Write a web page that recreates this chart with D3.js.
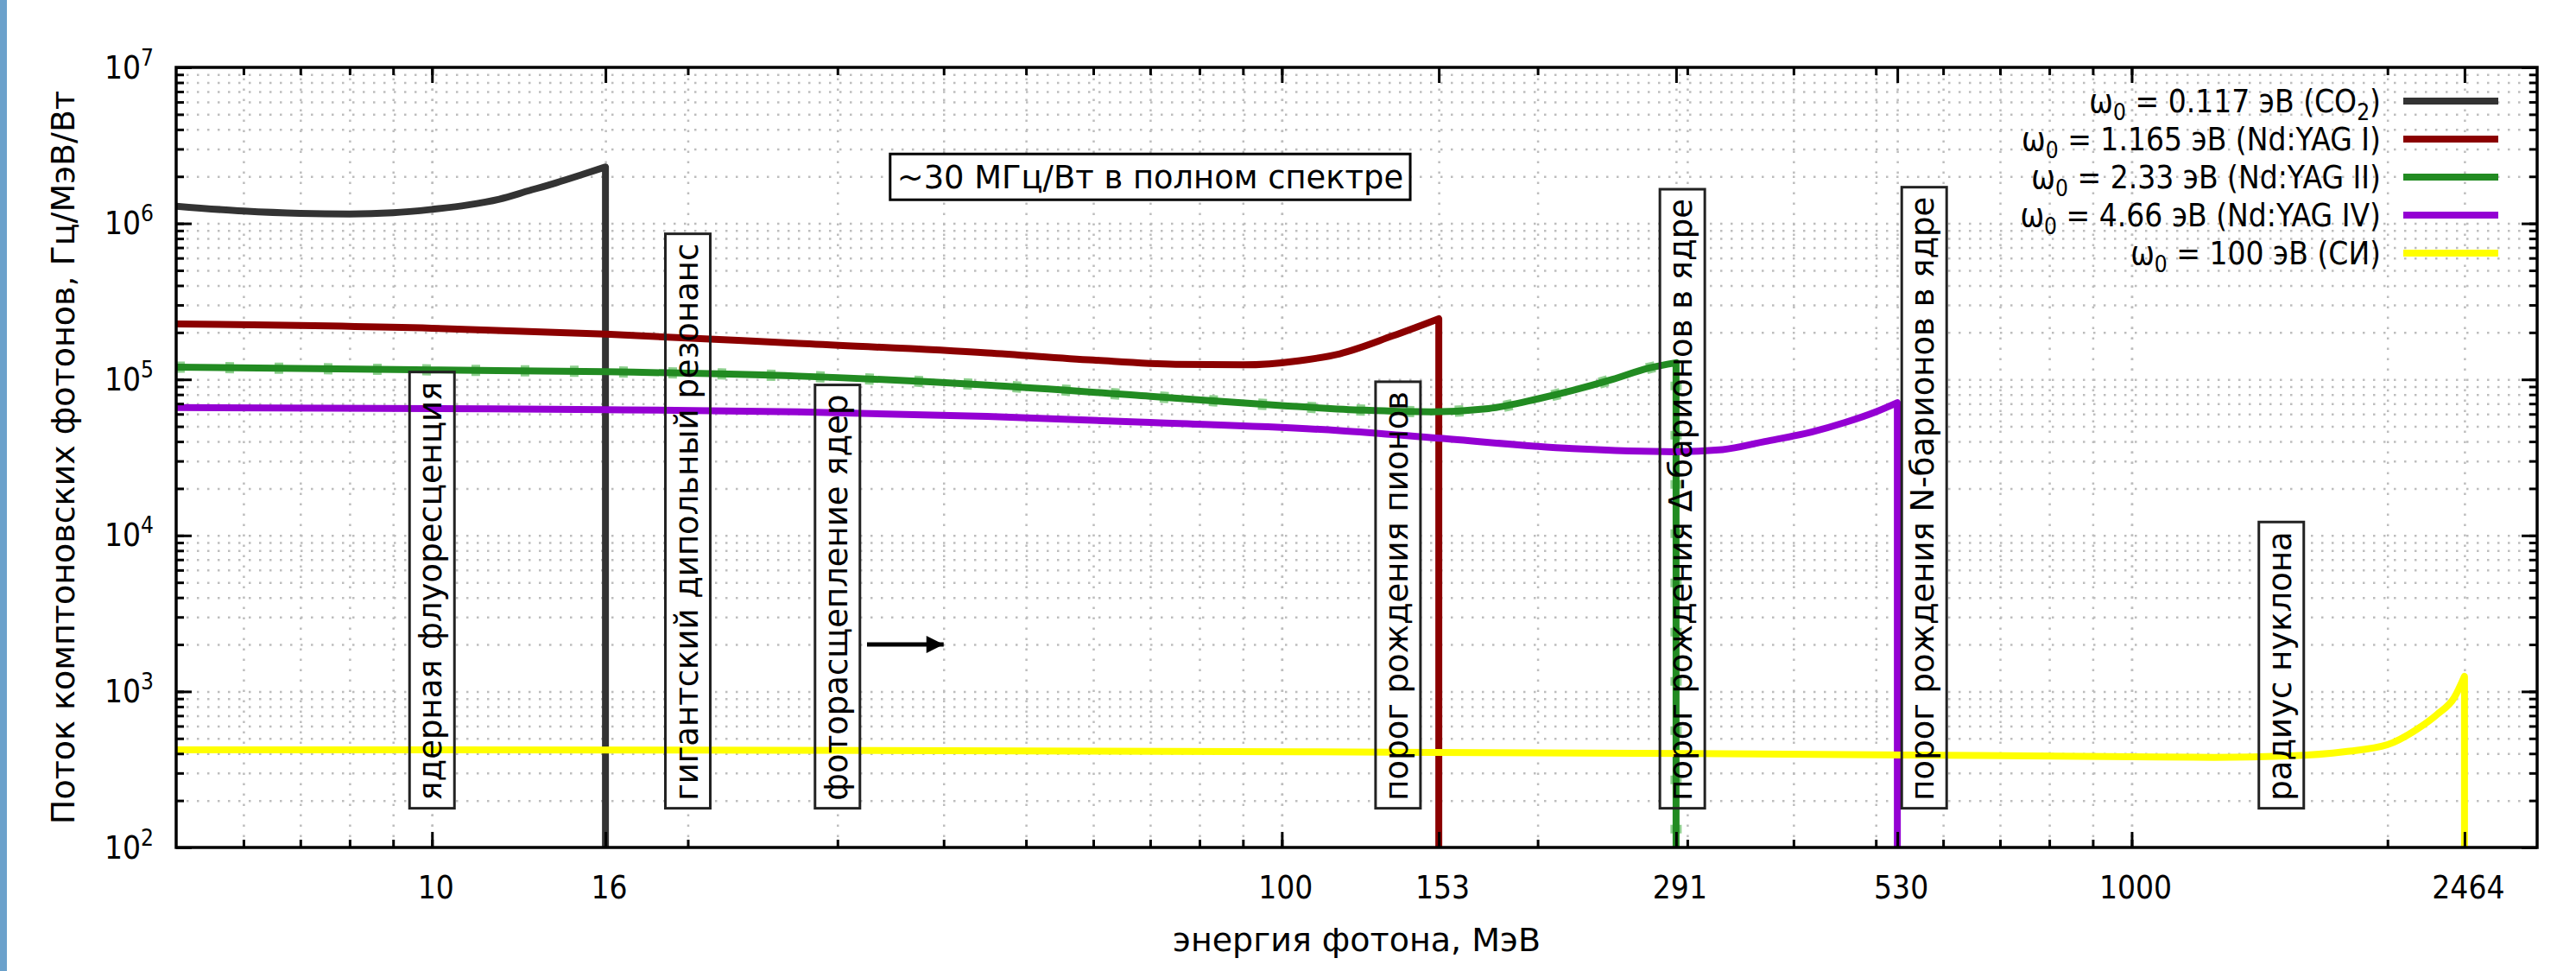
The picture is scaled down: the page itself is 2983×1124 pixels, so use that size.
<!DOCTYPE html>
<html>
<head>
<meta charset="utf-8">
<script src="https://cdn.jsdelivr.net/npm/d3@7"></script>
<style>
  body { margin: 0; background: #fff; }
  svg text { font-family: "DejaVu Sans", sans-serif; fill: #000; white-space: pre; }
</style>
</head>
<body>
<script>
// values: photon energy (MeV) and flux (Hz/MeV/W)
var energyCO2 = [5, 6, 7, 8, 9, 10, 11, 12, 13, 14, 15, 16];
var fluxCO2   = [1.29e6, 1.2e6, 1.16e6, 1.15e6, 1.17e6, 1.23e6, 1.31e6, 1.43e6, 1.62e6, 1.82e6, 2.05e6, 2.3e6];

var energyYag1 = [5, 10, 16, 27, 45, 60, 75, 90, 105, 117, 135, 153];
var fluxYag1   = [2.27e5, 2.13e5, 1.95e5, 1.7e5, 1.48e5, 1.33e5, 1.25e5, 1.24e5, 1.32e5, 1.46e5, 1.9e5, 2.45e5];

var energyYag2 = [5, 10, 16, 27, 45, 70, 100, 125, 150, 175, 200, 220, 245, 270, 291];
var fluxYag2   = [1.2e5, 1.15e5, 1.12e5, 1.05e5, 9.2e4, 7.8e4, 6.8e4, 6.35e4, 6.2e4, 6.5e4, 7.5e4, 8.5e4, 1.0e5, 1.18e5, 1.28e5];

var energyYag4 = [5, 10, 16, 27, 45, 70, 117, 153, 220, 290, 330, 370, 420, 460, 500, 530];
var fluxYag4   = [6.6e4, 6.5e4, 6.4e4, 6.2e4, 5.8e4, 5.3e4, 4.7e4, 4.2e4, 3.6e4, 3.44e4, 3.55e4, 4.0e4, 4.6e4, 5.3e4, 6.2e4, 7.1e4];

var energySR = [5, 20, 60, 150, 300, 600, 1000, 1250, 1530, 1786, 2000, 2174, 2288, 2398, 2464];
var fluxSR   = [423, 421, 415, 407, 400, 390, 381, 378, 386, 412, 456, 580, 713, 918, 1250];

var seriesNames = ["ω_0 = 0.117 эВ (CO_2)", "ω_0 = 1.165 эВ (Nd:YAG I)", "ω_0 = 2.33 эВ (Nd:YAG II)",
                   "ω_0 = 4.66 эВ (Nd:YAG IV)", "ω_0 = 100 эВ (СИ)"];
var seriesColors = ["#333333", "#8b0000", "#228b22", "#9400d3", "#ffff00"];

var xTickLabels = [10, 16, 100, 153, 291, 530, 1000, 2464];
var yTickValues = [1e2, 1e3, 1e4, 1e5, 1e6, 1e7];

var markerLabels = ["ядерная флуоресценция", "гигантский дипольный резонанс", "фоторасщепление ядер",
                    "порог рождения пионов", "порог рождения Δ-барионов в ядре",
                    "порог рождения N-барионов в ядре", "радиус нуклона"];
var markerEnergy = [10, 20, 30, 137, 296, 570, 1500];
var markerFlux = 200;

var noteText = "~30 МГц/Вт в полном спектре";
var noteEnergy = 70, noteFlux = 2e6;
var arrowEnergy = [32.5, 40], arrowFlux = 2000;

var xTitle = "энергия фотона, МэВ";
var yTitle = "Поток комптоновских фотонов, Гц/МэВ/Вт";

// layout
var W = 2983, H = 1124;
var plotL = 204, plotR = 2938, plotT = 78, plotB = 981;
var squeeze = "scale(0.87,1)";

var svg = d3.select("body").append("svg").attr("width", W).attr("height", H);
svg.append("rect").attr("width", W).attr("height", H).attr("fill", "#fff");
svg.append("rect").attr("x", 0).attr("y", 0).attr("width", 8).attr("height", H).attr("fill", "#6ba1cb");

var x = d3.scaleLog().domain([5, 3000]).range([plotL, plotR]);
var y = d3.scaleLog().domain([1e2, 1e7]).range([plotB, plotT]);

svg.append("clipPath").attr("id", "plotclip")
   .append("rect").attr("x", plotL).attr("y", plotT).attr("width", plotR - plotL).attr("height", plotB - plotT);

// grid
var xMinor = x.ticks().filter(function(v){ return v > 5 && v < 3000; });
var yMinor = y.ticks().filter(function(v){ return v > 100 && v < 1e7; });

var grid = svg.append("g");
grid.append("g").attr("transform", "translate(0," + plotB + ")")
    .call(d3.axisBottom(x).tickValues(xMinor.concat(xTickLabels)).tickSize(-(plotB - plotT)).tickFormat(""));
grid.append("g").attr("transform", "translate(" + plotL + ",0)")
    .call(d3.axisLeft(y).tickValues(yMinor).tickSize(-(plotR - plotL)).tickFormat(""));
grid.selectAll(".domain").remove();
grid.selectAll("line").attr("stroke", "#bdbdbd").attr("stroke-width", 2.5).attr("stroke-dasharray", "2.5 9.5");

var boxLayer = svg.append("g");
var curveLayer = svg.append("g").attr("clip-path", "url(#plotclip)");
var textLayer = svg.append("g");

// vertical labels in boxes
markerLabels.forEach(function(label, i) {
  var tr = "translate(" + x(markerEnergy[i]) + "," + y(markerFlux) + ") rotate(-90)";
  var t = textLayer.append("g").attr("transform", tr).append("text")
      .attr("font-size", 37).attr("dy", "0.3em").text(label);
  var len = t.node().getComputedTextLength();
  boxLayer.append("rect").attr("transform", tr)
      .attr("x", -9).attr("y", -26).attr("width", len + 20).attr("height", 52)
      .attr("fill", "#fff");
  textLayer.append("rect").attr("transform", tr)
      .attr("x", -9).attr("y", -26).attr("width", len + 20).attr("height", 52)
      .attr("fill", "none").attr("stroke", "#222").attr("stroke-width", 3);
});

// curves
var allSeries = [[energyCO2, fluxCO2], [energyYag1, fluxYag1], [energyYag2, fluxYag2],
                 [energyYag4, fluxYag4], [energySR, fluxSR]];
var line = d3.line().x(function(d){ return x(d[0]); }).y(function(d){ return y(d[1]); })
    .curve(d3.curveMonotoneX);

allSeries.forEach(function(s, i) {
  var pts = d3.zip(s[0], s[1]);
  var last = pts[pts.length - 1];
  var d = line(pts) + "L" + x(last[0]) + "," + (plotB + 5);
  if (i == 2) {
    curveLayer.append("path").attr("d", d).attr("fill", "none")
      .attr("stroke", "#8fd08f").attr("stroke-width", 13).attr("stroke-dasharray", "10 47");
  }
  curveLayer.append("path").attr("d", d).attr("fill", "none")
    .attr("stroke", seriesColors[i]).attr("stroke-width", 8)
    .attr("stroke-linejoin", "round");
});

// note box
var noteG = textLayer.append("g").attr("transform", "translate(" + x(noteEnergy) + "," + y(noteFlux) + ")");
var noteT = noteG.append("text").attr("transform", "scale(0.97,1)").attr("text-anchor", "middle")
    .attr("dy", "0.36em").attr("font-size", 38).text(noteText);
var noteW = noteT.node().getComputedTextLength() * 0.97;
noteG.insert("rect", "text").attr("x", -noteW / 2 - 8).attr("y", -26).attr("width", noteW + 16).attr("height", 53)
    .attr("fill", "#fff").attr("stroke", "#000").attr("stroke-width", 3);

// arrow
svg.append("defs").append("marker").attr("id", "head")
   .attr("viewBox", "0 0 10 10").attr("refX", 10).attr("refY", 5)
   .attr("markerWidth", 5).attr("markerHeight", 4).attr("markerUnits", "strokeWidth")
   .attr("orient", "auto")
   .append("path").attr("d", "M0,0L10,5L0,10Z").attr("fill", "#000");
textLayer.append("line")
   .attr("x1", x(arrowEnergy[0])).attr("x2", x(arrowEnergy[1]))
   .attr("y1", y(arrowFlux)).attr("y2", y(arrowFlux))
   .attr("stroke", "#000").attr("stroke-width", 5).attr("marker-end", "url(#head)");

// axes: ticks on all four sides, pointing inwards
var axes = svg.append("g");
axes.append("g").attr("transform", "translate(0," + plotB + ")")
    .call(d3.axisBottom(x).tickValues(xMinor).tickSize(-9).tickFormat(""));
var xLab = axes.append("g").attr("transform", "translate(0," + plotB + ")")
    .call(d3.axisBottom(x).tickValues(xTickLabels).tickSize(-18).tickPadding(32).tickFormat(d3.format("d")));
axes.append("g").attr("transform", "translate(0," + plotT + ")")
    .call(d3.axisTop(x).tickValues(xMinor).tickSize(-9).tickFormat(""));
axes.append("g").attr("transform", "translate(0," + plotT + ")")
    .call(d3.axisTop(x).tickValues(xTickLabels).tickSize(-18).tickFormat(""));
axes.append("g").attr("transform", "translate(" + plotL + ",0)")
    .call(d3.axisLeft(y).tickValues(yMinor).tickSize(-9).tickFormat(""));
var yLab = axes.append("g").attr("transform", "translate(" + plotL + ",0)")
    .call(d3.axisLeft(y).tickValues(yTickValues).tickSize(-18).tickPadding(30).tickFormat(""));
axes.append("g").attr("transform", "translate(" + plotR + ",0)")
    .call(d3.axisRight(y).tickValues(yMinor).tickSize(-9).tickFormat(""));
axes.append("g").attr("transform", "translate(" + plotR + ",0)")
    .call(d3.axisRight(y).tickValues(yTickValues).tickSize(-18).tickFormat(""));
axes.selectAll(".domain").remove();
axes.selectAll("line").attr("stroke", "#000").attr("stroke-width", 3);

xLab.selectAll("text").attr("font-size", 38).attr("transform", "translate(4,0) " + squeeze);

yLab.selectAll(".tick text").attr("font-size", 38).attr("transform", squeeze)
    .each(function(d) {
      var t = d3.select(this);
      t.text(null);
      t.append("tspan").text("10");
      t.append("tspan").attr("dy", -15).attr("font-size", 27).text(Math.round(Math.log10(d)));
    });

// frame
svg.append("rect").attr("x", plotL).attr("y", plotT).attr("width", plotR - plotL).attr("height", plotB - plotT)
   .attr("fill", "none").attr("stroke", "#000").attr("stroke-width", 3.5);

// axis titles
svg.append("text").attr("x", (plotL + plotR) / 2).attr("y", 1101)
   .attr("text-anchor", "middle").attr("font-size", 38).text(xTitle);
svg.append("g").attr("transform", "translate(86," + ((plotT + plotB) / 2) + ") rotate(-90)")
   .append("text").attr("text-anchor", "middle").attr("font-size", 38).text(yTitle);

// legend
function subText(sel, str) {
  var parts = str.split(/_(\w)/);
  parts.forEach(function(p, k) {
    if (k % 2 == 1) {
      sel.append("tspan").attr("dy", 9).attr("font-size", 27).text(p);
    } else if (k > 0) {
      sel.append("tspan").attr("dy", -9).text(p);
    } else {
      sel.append("tspan").text(p);
    }
  });
}
var legend = svg.append("g");
seriesNames.forEach(function(name, i) {
  var ry = 117 + i * 44;
  var t = legend.append("g").attr("transform", "translate(2757," + (ry + 13) + ")")
      .append("text").attr("transform", squeeze).attr("text-anchor", "end").attr("font-size", 38);
  subText(t, name);
  legend.append("line").attr("x1", 2783).attr("x2", 2893).attr("y1", ry).attr("y2", ry)
      .attr("stroke", seriesColors[i]).attr("stroke-width", 8);
});
</script>
</body>
</html>
